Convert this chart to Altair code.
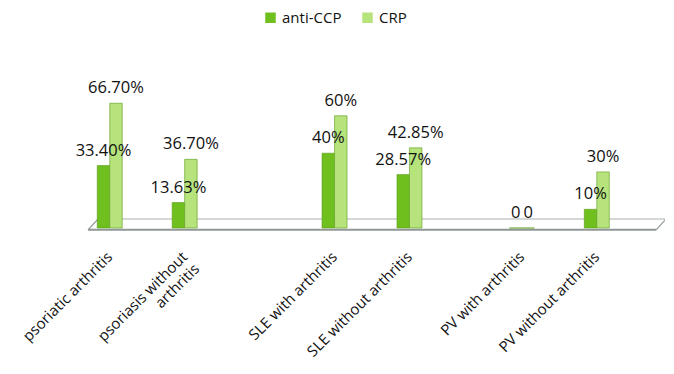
import altair as alt
import pandas as pd

# Slots of the category axis (blank slots keep the original uneven spacing)
slots = ["psoriatic arthritis", "_a", "psoriasis without arthritis", "_b", "_c", "_d",
         "SLE with arthritis", "_e", "SLE without arthritis", "_f", "_g",
         "PV with arthritis", "_h", "PV without arthritis", "_i"]
categories = ["psoriatic arthritis", "psoriasis without arthritis", "SLE with arthritis",
              "SLE without arthritis", "PV with arthritis", "PV without arthritis"]
series = ["anti-CCP", "CRP"]
anti_ccp = [33.40, 13.63, 40, 28.57, 0, 10]
crp = [66.70, 36.70, 60, 42.85, 0, 30]
anti_ccp_labels = ["33.40%", "13.63%", "40%", "28.57%", "0", "10%"]
crp_labels = ["66.70%", "36.70%", "60%", "42.85%", "0", "30%"]
colors = ["#6fbf1e", "#b6e37c"]

rows = []
for c, v, l in zip(categories, anti_ccp, anti_ccp_labels):
    rows.append({"category": c, "series": "anti-CCP", "value": v, "label": l})
for c, v, l in zip(categories, crp, crp_labels):
    rows.append({"category": c, "series": "CRP", "value": v, "label": l})
df = pd.DataFrame(rows)

FONT = "Open Sans"
W, H = 562, 187
DEPTH = 10  # 3D floor depth in pixels

x_enc = alt.X("category:N", scale=alt.Scale(domain=slots, paddingInner=0.3333, paddingOuter=0.1667),
              axis=alt.Axis(title=None, domain=False,
                            ticks=False, grid=False,
                            labelAngle=-45, labelAlign="right", labelBaseline="middle",
                            labelPadding=26, labelFontSize=15, labelFont=FONT,
                            labelColor="#111111", labelLimit=300, labelLineHeight=17,
                            labelExpr="datum.value[0] == '_' ? '' : (datum.value == 'psoriasis without arthritis' ? ['psoriasis without', 'arthritis'] : datum.label)"))
xo = alt.XOffset("series:N", scale=alt.Scale(domain=series, paddingInner=0, paddingOuter=0))
y_enc = alt.Y("value:Q", scale=alt.Scale(domain=[0, 100]), axis=None)

# decorative 3D floor (front and back edges)
floor_df = pd.DataFrame({"edge": ["back", "front"], "level": [4.8, -1.0]})
yfloor = alt.Y("level:Q", scale=alt.Scale(domain=[0, 100]), axis=None)
floor_back = alt.Chart(floor_df[floor_df.edge == "back"]).mark_rule(color="#a9b0b0", strokeWidth=1.2).encode(
    y=yfloor, x=alt.value(DEPTH - 3), x2=alt.value(W + 3 + DEPTH),
)
floor_front = alt.Chart(floor_df[floor_df.edge == "front"]).mark_rule(color="#8f9797", strokeWidth=2).encode(
    y=yfloor, x=alt.value(-3), x2=alt.value(W + 3),
)
floor_left = alt.Chart(floor_df[floor_df.edge == "front"]).mark_rule(color="#9aa1a1", strokeWidth=1.2).encode(
    x=alt.value(-3), x2=alt.value(DEPTH - 3), y=alt.value(H + 2), y2=alt.value(H - 9),
)
floor_right = alt.Chart(floor_df[floor_df.edge == "front"]).mark_rule(color="#9aa1a1", strokeWidth=1.2).encode(
    x=alt.value(W + 3), x2=alt.value(W + 3 + DEPTH), y=alt.value(H + 2), y2=alt.value(H - 9),
)

base = alt.Chart(df)

bars = base.mark_bar(stroke="#5a9a18", strokeWidth=0.6).encode(
    x=x_enc, xOffset=xo, y=y_enc,
    color=alt.Color("series:N", scale=alt.Scale(domain=series, range=colors),
                    legend=alt.Legend(title=None, orient="none", direction="horizontal",
                                      legendX=172, legendY=-31, symbolType="square",
                                      symbolSize=110, labelFontSize=15, labelFont=FONT,
                                      labelColor="#111111", columnPadding=18, symbolStrokeWidth=0))
)

texts = base.mark_text(baseline="bottom", dy=-7, fontSize=16.5, font=FONT, color="#111111").encode(
    x=x_enc, xOffset=xo, y=y_enc, text="label:N"
)

chart = alt.layer(floor_back, floor_left, floor_right, floor_front, bars, texts).properties(
    width=W, height=H,
    autosize=alt.AutoSizeParams(type="none"),
    padding={"left": 83, "top": 33, "right": 12, "bottom": 138},
).configure_view(stroke=None)

chart.save("out.html", embed_options={"renderer": "svg", "actions": False})
